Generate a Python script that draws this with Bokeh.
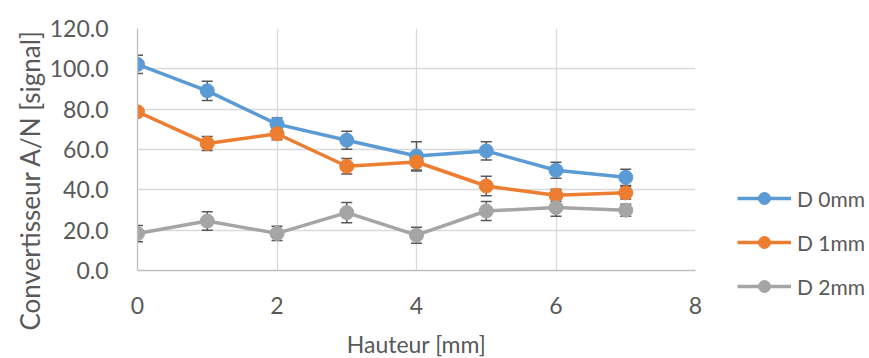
from bokeh.plotting import figure
from bokeh.models import (ColumnDataSource, Whisker, TeeHead, Legend, LegendItem,
                          NumeralTickFormatter, FixedTicker, Range1d, Title)
from bokeh.embed import file_html
from bokeh.resources import INLINE

hauteur = [0, 1, 2, 3, 4, 5, 6, 7]
series_names = ["D 0mm", "D 1mm", "D 2mm"]
d0 = [102.2, 89.1, 72.6, 64.6, 56.8, 59.3, 49.7, 46.2]
d0_err = [4.5, 4.8, 3.0, 4.5, 7.0, 4.5, 4.0, 4.0]
d1 = [78.7, 63.0, 67.8, 51.7, 53.8, 41.9, 37.3, 38.5]
d1_err = [2.0, 3.5, 3.0, 3.8, 4.4, 4.8, 3.0, 3.0]
d2 = [18.3, 24.5, 18.4, 28.7, 17.5, 29.5, 31.2, 29.9]
d2_err = [4.0, 4.6, 3.5, 5.0, 4.0, 4.7, 4.3, 3.0]
colors = ["#5B9BD5", "#ED7D31", "#A5A5A5"]
x_ticks = [0, 2, 4, 6, 8]
y_ticks = [0, 20, 40, 60, 80, 100, 120]
x_title = "Hauteur [mm]"
y_title = "Convertisseur A/N [signal]"

FONT = "Lato"
TXT = "#595959"

p = figure(frame_width=558, frame_height=242, output_backend="svg", toolbar_location=None,
           x_range=Range1d(0, 8), y_range=Range1d(0, 120),
           min_border_left=137, min_border_right=10,
           min_border_top=28, min_border_bottom=88)
p.outline_line_color = None
p.xgrid.grid_line_color = "#D9D9D9"
p.ygrid.grid_line_color = "#D9D9D9"
p.xgrid.grid_line_width = 1.3
p.ygrid.grid_line_width = 1.3
p.xaxis.ticker = FixedTicker(ticks=x_ticks)
p.yaxis.ticker = FixedTicker(ticks=y_ticks)
p.yaxis.formatter = NumeralTickFormatter(format="0.0")
for ax in (p.xaxis, p.yaxis):
    ax.major_tick_line_color = None
    ax.minor_tick_line_color = None
    ax.axis_line_color = "#BFBFBF"
    ax.axis_line_width = 1.3
    ax.major_label_text_font = FONT
    ax.major_label_text_font_size = "23px"
    ax.major_label_text_color = TXT
    ax.axis_label_text_font = FONT
    ax.axis_label_text_font_size = "23px"
    ax.axis_label_text_color = TXT
    ax.axis_label_text_font_style = "normal"
p.xaxis.axis_label = x_title
p.xaxis.major_label_standoff = 20
p.yaxis.major_label_standoff = 23
p.xaxis.axis_label_standoff = 13

ytitle = Title(text=y_title, align="left", offset=-60, standoff=2,
               text_font=FONT, text_font_size="26px", text_color=TXT,
               text_font_style="normal")
p.add_layout(ytitle, "left")

items = []
for name, ys, errs, c in zip(series_names, [d0, d1, d2], [d0_err, d1_err, d2_err], colors):
    src = ColumnDataSource(dict(x=hauteur, y=ys,
                                lo=[a - b for a, b in zip(ys, errs)],
                                hi=[a + b for a, b in zip(ys, errs)]))
    w = Whisker(source=src, base="x", lower="lo", upper="hi",
                line_color="#595959", line_width=1.5,
                upper_head=TeeHead(size=11, line_color="#595959", line_width=1.5),
                lower_head=TeeHead(size=11, line_color="#595959", line_width=1.5))
    p.add_layout(w)
    r1 = p.line("x", "y", source=src, line_color=c, line_width=3.5)
    r2 = p.scatter("x", "y", source=src, size=14, fill_color=c, line_color=c)
    items.append(LegendItem(label=name, renderers=[r1, r2]))

legend = Legend(items=items, location=(42, -31), orientation="vertical",
                glyph_width=54, glyph_height=30, label_height=20,
                spacing=14, padding=0, margin=0, label_standoff=6,
                label_text_font=FONT, label_text_font_size="21px",
                label_text_color=TXT, background_fill_alpha=0,
                border_line_color=None)
p.add_layout(legend, "right")

open("out.html", "w").write(file_html(p, INLINE))
